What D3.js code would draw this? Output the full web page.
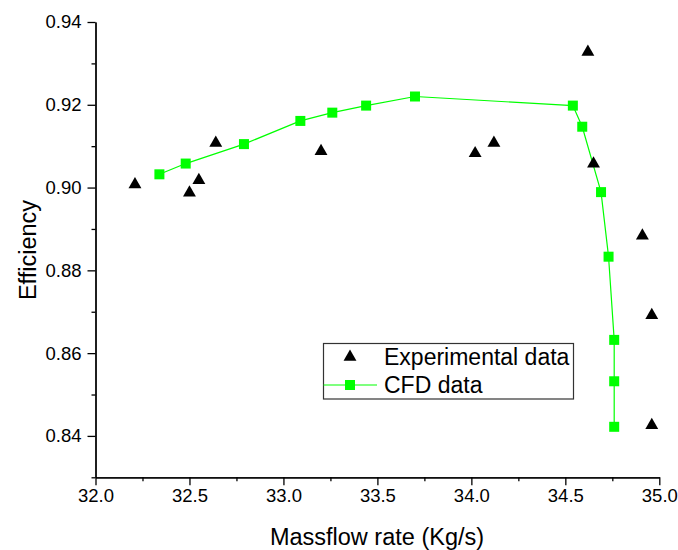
<!DOCTYPE html>
<html><head><meta charset="utf-8">
<script src="https://cdn.jsdelivr.net/npm/d3@7"></script>
<style>body{margin:0;background:#fff}svg{display:block}text{font-family:Arial,"Liberation Sans",sans-serif}</style>
</head><body><svg id="c" width="678" height="550"></svg>
<script>
const expX = [32.21, 32.50, 32.55, 32.64, 33.20, 34.02, 34.12, 34.62, 34.65, 34.91, 34.96, 34.96];
const expY = [0.901, 0.899, 0.902, 0.911, 0.909, 0.9085, 0.911, 0.933, 0.906, 0.8886, 0.8694, 0.8428];
const cfdX = [32.34, 32.48, 32.79, 33.09, 33.26, 33.44, 33.70, 34.54, 34.59, 34.69, 34.73, 34.76, 34.76, 34.76];
const cfdY = [0.9032, 0.9058, 0.9105, 0.9161, 0.9181, 0.9198, 0.9220, 0.9198, 0.9147, 0.8989, 0.8833, 0.8632, 0.8532, 0.8422];
const xTicks = [32.0, 32.5, 33.0, 33.5, 34.0, 34.5, 35.0];
const yTicks = [0.84, 0.86, 0.88, 0.90, 0.92, 0.94];
const xMinor = [32.25, 32.75, 33.25, 33.75, 34.25, 34.75];
const yMinor = [0.83, 0.85, 0.87, 0.89, 0.91, 0.93];
const seriesNames = ["Experimental data", "CFD data"];

const svg = d3.select("#c");
const x = d3.scaleLinear().domain([32, 35]).range([95.5, 659.3]);
const y = d3.scaleLinear().domain([0.83, 0.94]).range([477.3, 22]);
const green = "#00ff00";

function styleAxis(g){
  g.select(".domain").attr("stroke","#000").attr("stroke-width",1.3);
  g.selectAll(".tick line").attr("stroke","#000").attr("stroke-width",1.3);
  g.selectAll(".tick text").attr("fill","#000").style("font-size","18.5px").style("font-family","Arial, 'Liberation Sans', sans-serif");
}
// minor ticks
svg.append("g").attr("transform","translate(0,477.3)")
  .call(d3.axisBottom(x).tickValues(xMinor).tickSize(4).tickFormat("").tickSizeOuter(0))
  .call(styleAxis);
svg.append("g").attr("transform","translate(95.5,0)")
  .call(d3.axisLeft(y).tickValues(yMinor).tickSize(4).tickFormat("").tickSizeOuter(0))
  .call(styleAxis);
// major
svg.append("g").attr("transform","translate(0,477.3)")
  .call(d3.axisBottom(x).tickValues(xTicks).tickSize(8).tickPadding(4).tickFormat(d3.format(".1f")).tickSizeOuter(0))
  .call(styleAxis);
svg.append("g").attr("transform","translate(95.5,0)")
  .call(d3.axisLeft(y).tickValues(yTicks).tickSize(8).tickPadding(6).tickFormat(d3.format(".2f")).tickSizeOuter(0))
  .call(styleAxis);

// axis titles
svg.append("text").attr("x",377).attr("y",545).attr("text-anchor","middle")
  .style("font-size","23.5px").text("Massflow rate (Kg/s)");
svg.append("text").attr("transform","translate(36,250) rotate(-90)").attr("text-anchor","middle")
  .style("font-size","23.5px").text("Efficiency");

// CFD line
const cfd = cfdX.map((v,i)=>[v,cfdY[i]]);
svg.append("path").datum(cfd)
  .attr("fill","none").attr("stroke",green).attr("stroke-width",1.2)
  .attr("d", d3.line().x(d=>x(d[0])).y(d=>y(d[1])));
svg.selectAll("rect.cfd").data(cfd).join("rect").attr("class","cfd")
  .attr("x",d=>x(d[0])-5).attr("y",d=>y(d[1])-5).attr("width",10).attr("height",10).attr("fill",green);

// experimental triangles
const tri = d3.symbol().type(d3.symbolTriangle).size(72);
const exp = expX.map((v,i)=>[v,expY[i]]);
svg.selectAll("path.exp").data(exp).join("path").attr("class","exp")
  .attr("transform",d=>`translate(${x(d[0])},${y(d[1])+1})`).attr("d",tri).attr("fill","#000");

// legend
const lg = svg.append("g");
lg.append("rect").attr("x",323.5).attr("y",343.5).attr("width",250).attr("height",55.5)
  .attr("fill","#fff").attr("stroke","#333").attr("stroke-width",1.2);
lg.append("path").attr("transform","translate(350,357)").attr("d",tri).attr("fill","#000");
lg.append("text").attr("x",384).attr("y",365).style("font-size","23px").text(seriesNames[0]);
lg.append("line").attr("x1",323.5).attr("x2",377).attr("y1",385).attr("y2",385).attr("stroke",green).attr("stroke-width",1.2);
lg.append("rect").attr("x",345).attr("y",380).attr("width",10).attr("height",10).attr("fill",green);
lg.append("text").attr("x",384).attr("y",393).style("font-size","23px").text(seriesNames[1]);
</script></body></html>
